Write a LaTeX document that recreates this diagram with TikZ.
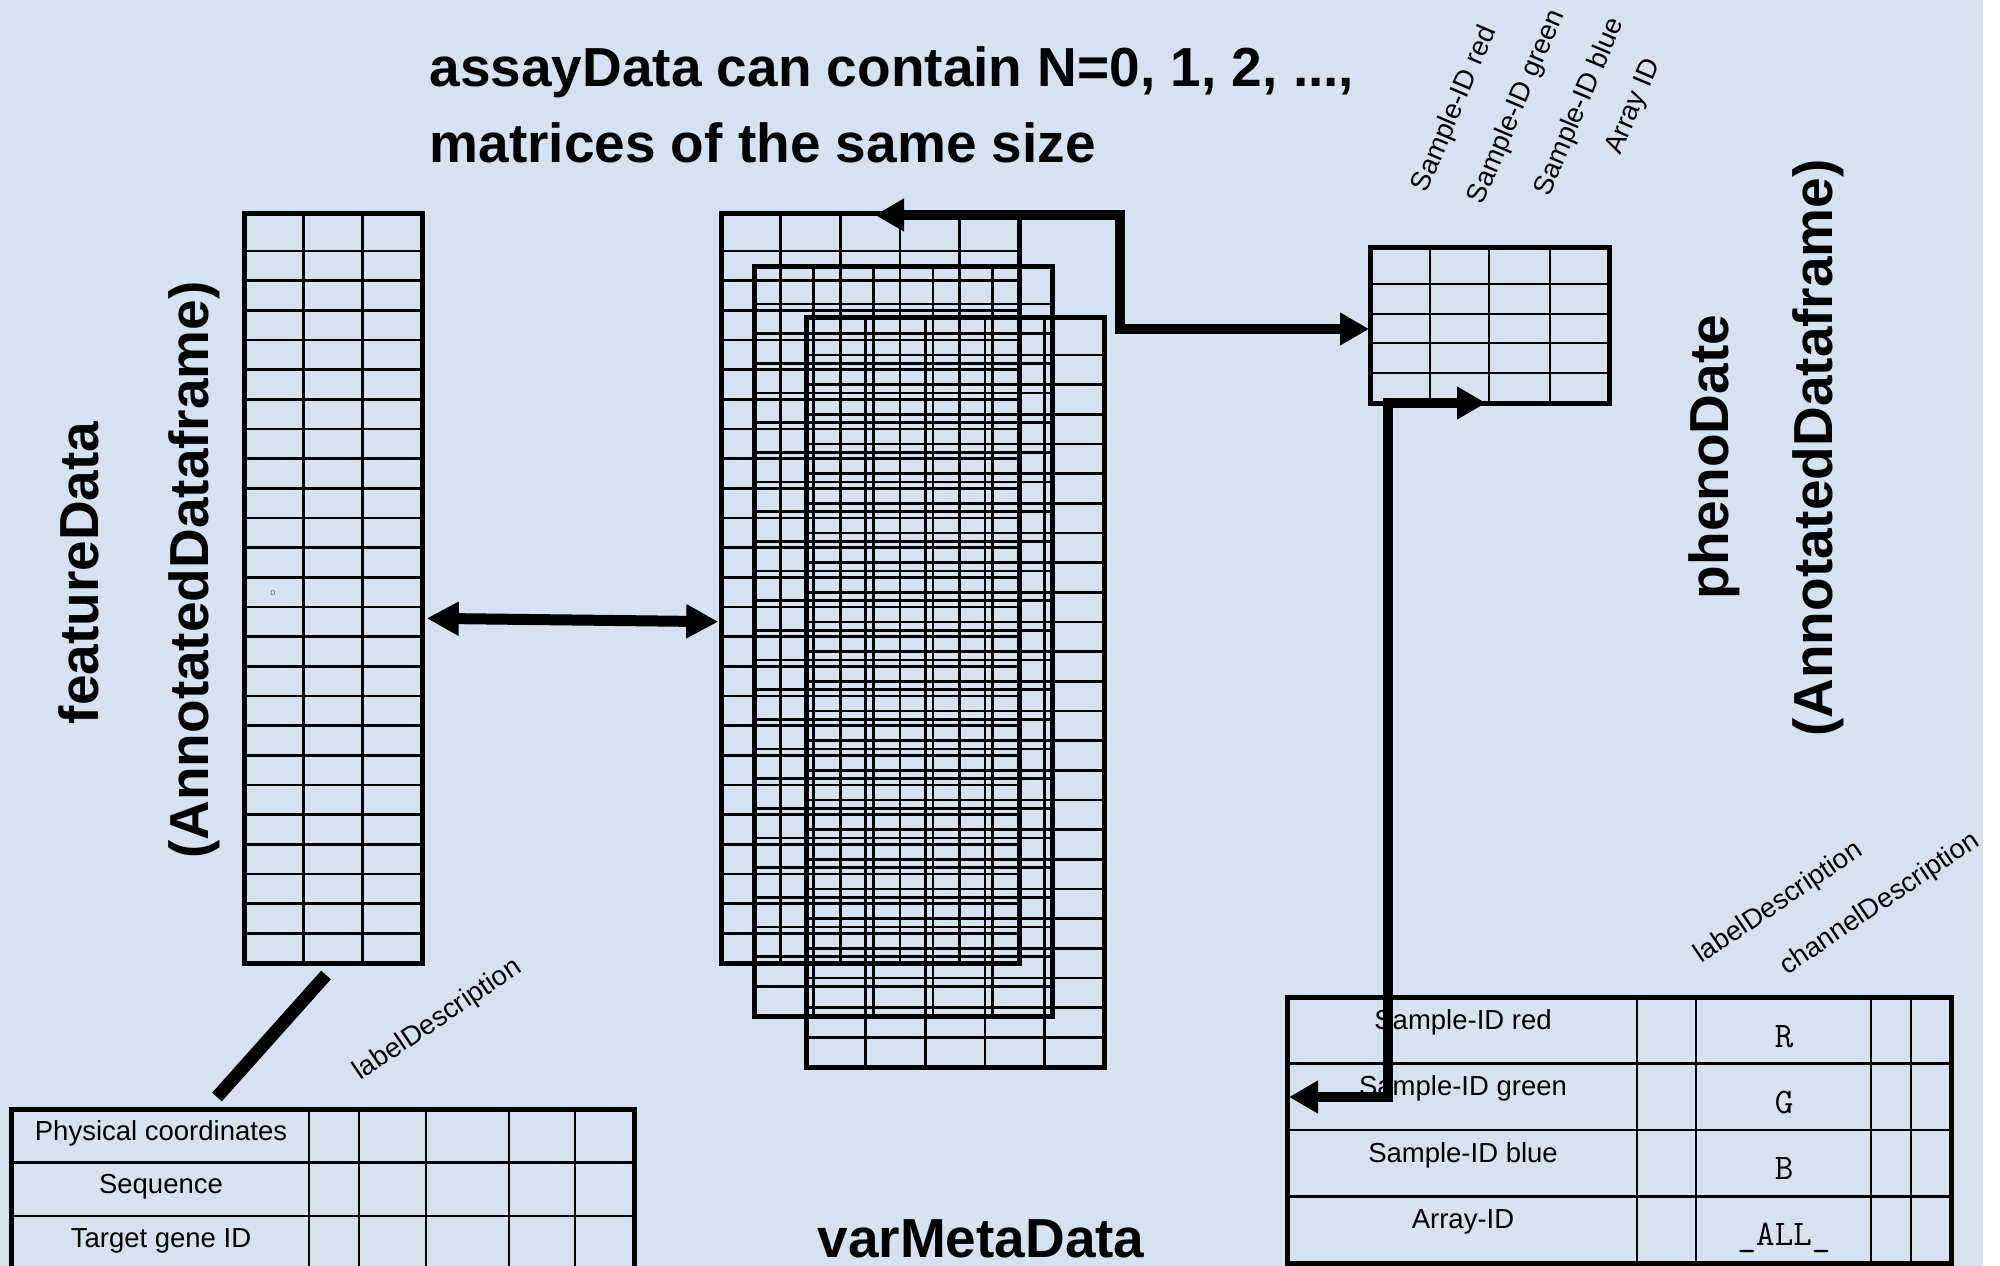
\documentclass[tikz,border=0pt]{standalone}
\usepackage{fontspec}
\setmainfont{Liberation Sans}
\usetikzlibrary{arrows.meta,calc}

\definecolor{bgblue}{RGB}{213,226,242}

% A framed table: name, x, y (top left), width, height, column offsets, row offsets
\newcommand\tablegrid[7]{%
  \node[frame, minimum width=#4pt, minimum height=#5pt] (#1) at (#2,#3) {};
  \foreach \cx in {#6}
    \draw[gridline] ($(#1.north west)+(\cx,0)$) -- ($(#1.south west)+(\cx,0)$);
  \foreach \ry in {#7}
    \draw[gridline] ($(#1.north west)+(0,\ry)$) -- ($(#1.north east)+(0,\ry)$);
}

\begin{document}
\begin{tikzpicture}[x=1pt,y=-1pt,
  frame/.style={draw, rectangle, line width=5pt, inner sep=0pt, outer sep=0pt, anchor=north west},
  gridline/.style={line width=2.6pt},
  link/.style={line width=10pt, line join=miter, >={Triangle[length=29pt,width=31pt]}},
  lbl/.style={font=\fontsize{27.5}{33}\selectfont},
  big/.style={font=\bfseries\fontsize{55}{66}\selectfont},
  code/.style={font=\ttfamily\fontsize{36}{40}\selectfont}]

% page and background
\useasboundingbox (0,0) rectangle (2000,1266);
\fill[white] (0,0) rectangle (2000,1266);
\fill[bgblue] (0,0) rectangle (1983,1266);
\clip (0,0) rectangle (2000,1266);

% title
\node[big, anchor=base west] (title1) at (426,86) {assayData can contain N=0, 1, 2, ...,};
\node[big, anchor=base west] (title2) at (426,162) {matrices of the same size};

% featureData table
\tablegrid{ft}{244}{213}{178}{750}{59.33,118.67}{38,67.667,...,725}
\node[font=\fontsize{7}{8}\selectfont, text=black!65] (dmark) at (273,593) {D};

% assayData: three stacked matrices
\tablegrid{m1}{721}{213}{298}{750}{59.6,119.2,...,240}{38,67.667,...,725}
\tablegrid{m2}{754}{266}{298}{750}{59.6,119.2,...,240}{38,67.667,...,725}
\tablegrid{m3}{806}{317}{298}{750}{59.6,119.2,...,240}{38,67.667,...,725}

% phenoData table
\tablegrid{ph}{1370}{247}{239}{156}{60,119,180}{37,67,96,126}

% feature metadata table
\tablegrid{fm}{11}{1109}{623}{170}{298,348,415,498,564}{53.5,107}

% varMetaData table
\tablegrid{vm}{1287}{997}{664}{266}{350,409,584,624}{66.5,133,199.5}

% vertical titles
\node[big, rotate=90, anchor=base] (fdname) at (98,573) {featureData};
\node[big, rotate=90, anchor=base] (fdtype) at (208,570) {(AnnotatedDataframe)};
\node[big, rotate=90, anchor=base] (pdname) at (1728,457) {phenoDate};
\node[big, rotate=90, anchor=base] (pdtype) at (1832,448) {(AnnotatedDataframe)};
\node[big, anchor=base] (vmdname) at (981,1257) {varMetaData};

% column labels of the phenoData table
\node[lbl, rotate=67] (phc1) at (1455,109) {Sample-ID red};
\node[lbl, rotate=67] (phc2) at (1517,107) {Sample-ID green};
\node[lbl, rotate=67] (phc3) at (1580,107) {Sample-ID blue};
\node[lbl, rotate=67] (phc4) at (1634,107) {Array ID};

% column labels of the metadata tables
\node[lbl, rotate=34] (fmlab) at (438,1020) {labelDescription};
\node[lbl, rotate=34] (vmlab) at (1779,903) {labelDescription};
\node[lbl, rotate=34] (vmchan) at (1880,904) {channelDescription};

% feature metadata rows
\node[lbl, anchor=base] (fmr1) at (161,1140) {Physical coordinates};
\node[lbl, anchor=base] (fmr2) at (161,1193) {Sequence};
\node[lbl, anchor=base] (fmr3) at (161,1247) {Target gene ID};

% varMetaData rows
\node[lbl, anchor=base] (vmr1) at (1463,1029) {Sample-ID red};
\node[lbl, anchor=base] (vmr2) at (1463,1095) {Sample-ID green};
\node[lbl, anchor=base] (vmr3) at (1463,1162) {Sample-ID blue};
\node[lbl, anchor=base] (vmr4) at (1463,1228) {Array-ID};
\node[code, anchor=base] (vmc1) at (1784,1047) {R};
\node[code, anchor=base] (vmc2) at (1784,1113) {G};
\node[code, anchor=base] (vmc3) at (1784,1179) {B};
\node[code, anchor=base] (vmc4) at (1784,1245) {\_ALL\_};

% connectors
\coordinate (a1s) at ($(ft.north east)+(4.7,405.3)$);
\coordinate (a1e) at ($(m1.north west)+(-2.7,408.7)$);
\draw[link, line width=11pt, <->, >={Triangle[length=32pt,width=32pt]}] (a1s) -- (a1e);

\coordinate (a2s) at ($(m1.north west)+(154,2)$);
\coordinate (a2e) at ($(ph.west)+(-1,4)$);
\draw[link, <->] (a2s) -| ($(a2e)+(-249,0)$) -- (a2e);

\coordinate (a3s) at ($(ph.south)+(-3.5,0)$);
\coordinate (a3e) at ($(vm.north west)+(2,100)$);
\draw[link, <->] (a3s) -- ++(-98,0) |- (a3e);

\draw[line width=13pt] ($(ft.south)+(-7,12)$) -- ($(fm.north west)+(206,-12)$);

\end{tikzpicture}
\end{document}
